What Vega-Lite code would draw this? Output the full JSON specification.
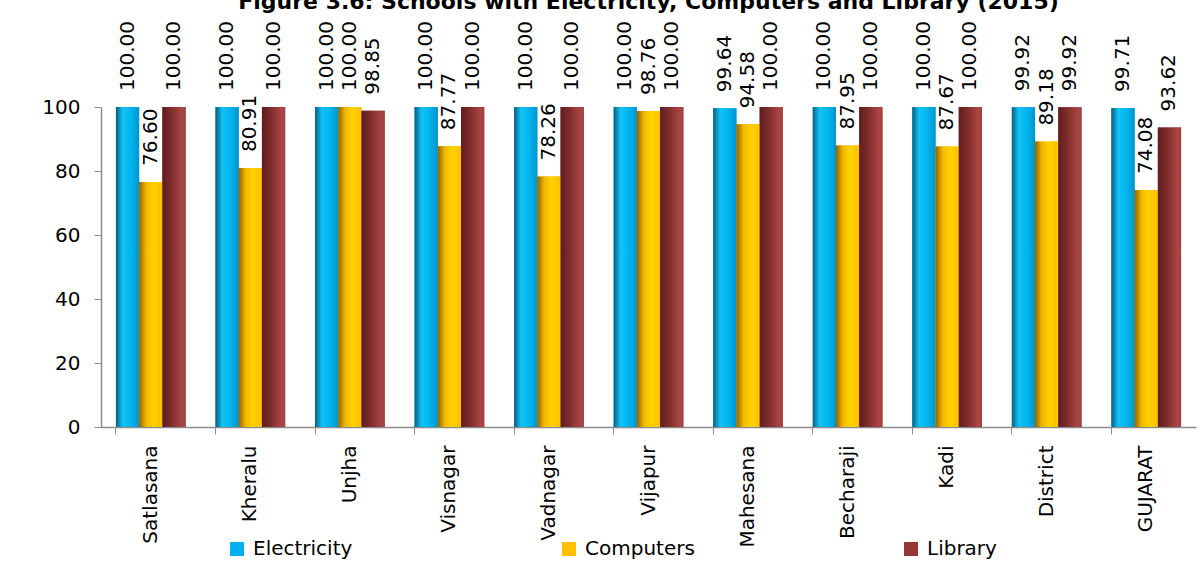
{
  "$schema": "https://vega.github.io/schema/vega-lite/v6.json",
  "autosize": "none",
  "width": 1095,
  "height": 320,
  "padding": {"left": 101, "top": 107, "right": 7, "bottom": 135},
  "background": "white",
  "title": {
    "text": "Figure 3.6: Schools with Electricity, Computers and Library (2015)",
    "font": "DejaVu Sans",
    "fontSize": 22,
    "fontWeight": "bold",
    "color": "black",
    "anchor": "middle",
    "offset": 7
  },
  "config": {
    "view": {"stroke": null},
    "font": "DejaVu Sans"
  },
  "data": {
    "values": [
      {"block": "Satlasana", "series": "Electricity", "value": 100.00},
      {"block": "Satlasana", "series": "Computers", "value": 76.60},
      {"block": "Satlasana", "series": "Library", "value": 100.00},
      {"block": "Kheralu", "series": "Electricity", "value": 100.00},
      {"block": "Kheralu", "series": "Computers", "value": 80.91},
      {"block": "Kheralu", "series": "Library", "value": 100.00},
      {"block": "Unjha", "series": "Electricity", "value": 100.00},
      {"block": "Unjha", "series": "Computers", "value": 100.00},
      {"block": "Unjha", "series": "Library", "value": 98.85},
      {"block": "Visnagar", "series": "Electricity", "value": 100.00},
      {"block": "Visnagar", "series": "Computers", "value": 87.77},
      {"block": "Visnagar", "series": "Library", "value": 100.00},
      {"block": "Vadnagar", "series": "Electricity", "value": 100.00},
      {"block": "Vadnagar", "series": "Computers", "value": 78.26},
      {"block": "Vadnagar", "series": "Library", "value": 100.00},
      {"block": "Vijapur", "series": "Electricity", "value": 100.00},
      {"block": "Vijapur", "series": "Computers", "value": 98.76},
      {"block": "Vijapur", "series": "Library", "value": 100.00},
      {"block": "Mahesana", "series": "Electricity", "value": 99.64},
      {"block": "Mahesana", "series": "Computers", "value": 94.58},
      {"block": "Mahesana", "series": "Library", "value": 100.00},
      {"block": "Becharaji", "series": "Electricity", "value": 100.00},
      {"block": "Becharaji", "series": "Computers", "value": 87.95},
      {"block": "Becharaji", "series": "Library", "value": 100.00},
      {"block": "Kadi", "series": "Electricity", "value": 100.00},
      {"block": "Kadi", "series": "Computers", "value": 87.67},
      {"block": "Kadi", "series": "Library", "value": 100.00},
      {"block": "District", "series": "Electricity", "value": 99.92},
      {"block": "District", "series": "Computers", "value": 89.18},
      {"block": "District", "series": "Library", "value": 99.92},
      {"block": "GUJARAT", "series": "Electricity", "value": 99.71},
      {"block": "GUJARAT", "series": "Computers", "value": 74.08},
      {"block": "GUJARAT", "series": "Library", "value": 93.62}
    ]
  },
  "encoding": {
    "x": {
      "field": "block",
      "type": "nominal",
      "sort": null,
      "scale": {"paddingInner": 0.3, "paddingOuter": 0.15},
      "axis": {
        "title": null,
        "labelAngle": -90,
        "labelFont": "DejaVu Sans",
        "labelFontSize": 20,
        "labelColor": "black",
        "labelPadding": 11,
        "tickSize": 7,
        "bandPosition": 0,
        "domainColor": "#8c8c8c",
        "tickColor": "#8c8c8c",
        "domainWidth": 1.5,
        "labelLimit": 300
      }
    },
    "xOffset": {
      "field": "series",
      "type": "nominal",
      "scale": {"domain": ["Electricity", "Computers", "Library"], "paddingInner": 0, "paddingOuter": 0}
    },
    "y": {
      "field": "value",
      "type": "quantitative",
      "scale": {"domain": [0, 100], "nice": false},
      "axis": {
        "title": null,
        "values": [0, 20, 40, 60, 80, 100],
        "grid": false,
        "labelFont": "DejaVu Sans",
        "labelFontSize": 20,
        "labelColor": "black",
        "labelPadding": 14,
        "tickSize": 7,
        "domainColor": "#8c8c8c",
        "tickColor": "#8c8c8c",
        "domainWidth": 1.5
      }
    }
  },
  "layer": [
    {
      "mark": {"type": "bar"},
      "encoding": {
        "color": {
          "field": "series",
          "type": "nominal",
          "scale": {"domain": ["Electricity", "Computers", "Library"], "range": ["#00b0f0", "#ffc000", "#953735"]},
          "legend": {
            "title": null,
            "orient": "none",
            "direction": "horizontal",
            "legendX": 126,
            "legendY": 432,
            "symbolType": "square",
            "symbolSize": 196,
            "symbolStrokeWidth": 0,
            "labelFont": "DejaVu Sans",
            "labelFontSize": 20,
            "labelColor": "black",
            "labelOffset": 6,
            "columnPadding": 206,
            "labelLimit": 300
          }
        }
      }
    },
    {
      "transform": [{"filter": "datum.series === 'Electricity'"}],
      "mark": {
        "type": "bar",
        "color": {
          "gradient": "linear", "x1": 0, "y1": 0, "x2": 1, "y2": 0,
          "stops": [
            {"offset": 0, "color": "#0b5d82"},
            {"offset": 0.3, "color": "#10c4f6"},
            {"offset": 0.65, "color": "#00b4ee"},
            {"offset": 1, "color": "#0095cc"}
          ]
        }
      }
    },
    {
      "transform": [{"filter": "datum.series === 'Computers'"}],
      "mark": {
        "type": "bar",
        "color": {
          "gradient": "linear", "x1": 0, "y1": 0, "x2": 1, "y2": 0,
          "stops": [
            {"offset": 0, "color": "#8f6200"},
            {"offset": 0.3, "color": "#f2b800"},
            {"offset": 0.6, "color": "#ffd200"},
            {"offset": 1, "color": "#ffbf00"}
          ]
        }
      }
    },
    {
      "transform": [{"filter": "datum.series === 'Library'"}],
      "mark": {
        "type": "bar",
        "color": {
          "gradient": "linear", "x1": 0, "y1": 0, "x2": 1, "y2": 0,
          "stops": [
            {"offset": 0, "color": "#5e1c1c"},
            {"offset": 0.45, "color": "#86302f"},
            {"offset": 0.85, "color": "#a94645"},
            {"offset": 1, "color": "#a34140"}
          ]
        }
      }
    },
    {
      "mark": {
        "type": "text",
        "angle": 270,
        "align": "left",
        "baseline": "middle",
        "dx": 16,
        "font": "DejaVu Sans",
        "fontSize": 20,
        "color": "black"
      },
      "encoding": {
        "text": {"field": "value", "type": "quantitative", "format": ".2f"}
      }
    }
  ]
}
